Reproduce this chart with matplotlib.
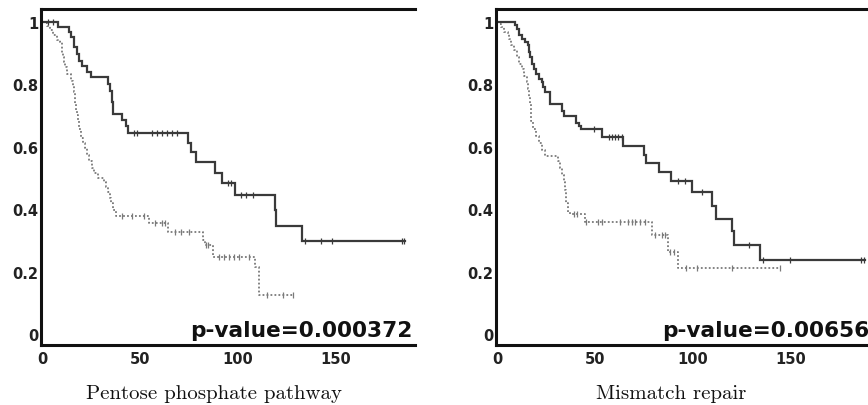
import matplotlib
matplotlib.use('Agg')
import matplotlib.pyplot as plt
import numpy as np

# ---------------- data ----------------
titles = ["Pentose phosphate pathway", "Mismatch repair"]
pvalues = ["p-value=0.000372", "p-value=0.00656"]
xticks = [0, 50, 100, 150]
yticks = [0, 0.2, 0.4, 0.6, 0.8, 1]
ytick_labels = ["0", "0.2", "0.4", "0.6", "0.8", "1"]

# Pentose phosphate pathway - solid group
pp_high_t = [0, 7.6, 13.5, 14.6, 16.0, 17.3, 18.3, 20.0, 22.7, 24.7, 33.2, 34.3, 35.2,
             35.7, 40.7, 42.4, 43.6, 74.4, 76.1, 78.6, 87.9, 91.6, 98.5, 118.7, 119.5, 132.8]
pp_high_s = [1.0, 0.983, 0.967, 0.951, 0.918, 0.897, 0.875, 0.859, 0.838, 0.822, 0.800, 0.778,
             0.741, 0.705, 0.684, 0.665, 0.642, 0.612, 0.583, 0.549, 0.515, 0.483, 0.445,
             0.397, 0.345, 0.297]
pp_high_end = 185.5
pp_high_cens = [2.5, 5.0, 46.6, 48.3, 55.9, 58.4, 61.0, 63.5, 66.0, 68.5, 95.0, 96.3,
                101.4, 103.9, 107.6, 134.2, 142.6, 148.1, 183.8, 185.0]

# Pentose phosphate pathway - dotted group
pp_low_t = [0, 1.0, 2.0, 3.7, 5.0, 7.1, 8.8, 9.6, 10.0, 10.5, 11.0, 11.3, 12.6, 14.3, 15.5,
            16.0, 16.3, 16.7, 17.2, 17.6, 18.0, 18.8, 19.7, 20.5, 21.7, 22.7, 23.9, 25.1,
            26.4, 28.1, 31.1, 32.3, 33.6, 34.2, 34.8, 35.7, 37.4, 54.2, 64.3, 82.0, 82.8,
            87.0, 108.6, 110.6]
pp_low_s = [1.0, 0.994, 0.985, 0.972, 0.956, 0.940, 0.934, 0.918, 0.90, 0.886, 0.87, 0.854,
            0.832, 0.811, 0.795, 0.775, 0.757, 0.735, 0.714, 0.70, 0.682, 0.655, 0.628,
            0.612, 0.596, 0.574, 0.553, 0.531, 0.515, 0.499, 0.488, 0.472, 0.456, 0.435,
            0.418, 0.397, 0.377, 0.354, 0.326, 0.300, 0.286, 0.248, 0.215, 0.125]
pp_low_end = 128.3
pp_low_cens = [40.8, 45.8, 51.7, 57.4, 60.8, 62.6, 67.5, 71.0, 75.0, 83.6, 84.5,
               90.4, 92.9, 95.5, 98.0, 100.5, 105.6, 114.6, 123.0, 128.3]

# Mismatch repair - solid group
mm_high_t = [0, 8.9, 10.1, 11.0, 12.4, 14.1, 15.3, 15.8, 16.5, 17.5, 18.7, 19.6, 20.9, 22.7,
             23.4, 24.4, 26.8, 33.0, 33.8, 40.2, 41.5, 42.8, 53.6, 64.3, 74.9, 75.9, 82.3,
             88.7, 99.5, 109.8, 111.5, 119.8, 121.0, 134.2]
mm_high_s = [1.0, 0.988, 0.977, 0.956, 0.945, 0.934, 0.924, 0.902, 0.886, 0.865, 0.848,
             0.832, 0.816, 0.805, 0.789, 0.773, 0.735, 0.714, 0.698, 0.676, 0.666, 0.655,
             0.630, 0.603, 0.574, 0.547, 0.518, 0.490, 0.454, 0.410, 0.368, 0.330, 0.286,
             0.238]
mm_high_end = 188.0
mm_high_cens = [49.5, 56.7, 58.3, 60.0, 61.7, 63.4, 92.3, 96.0, 104.3, 128.7, 135.9,
                149.6, 186.1, 187.3]

# Mismatch repair - dotted group
mm_low_t = [0, 0.5, 1.5, 3.3, 5.0, 5.8, 6.7, 8.4, 9.6, 11.0, 12.4, 13.6, 14.8, 15.6, 16.1,
            16.5, 16.8, 17.0, 17.9, 19.6, 21.3, 22.7, 24.4, 31.0, 32.0, 33.0, 34.0, 34.5,
            34.8, 35.1, 35.9, 37.0, 44.5, 78.9, 87.0, 92.3]
mm_low_s = [1.0, 0.992, 0.983, 0.967, 0.959, 0.945, 0.924, 0.908, 0.886, 0.865, 0.848,
            0.827, 0.805, 0.784, 0.757, 0.735, 0.714, 0.682, 0.655, 0.633, 0.612, 0.590,
            0.569, 0.553, 0.531, 0.510, 0.488, 0.461, 0.445, 0.418, 0.391, 0.383, 0.359,
            0.318, 0.262, 0.210]
mm_low_end = 144.2
mm_low_cens = [38.8, 40.5, 45.4, 51.4, 53.1, 62.5, 66.8, 68.6, 70.3, 72.8, 75.4, 80.6,
               84.0, 85.7, 88.3, 90.0, 96.1, 102.1, 119.8, 144.2]

# ---------------- figure ----------------
W, H = 868, 406
fig = plt.figure(figsize=(W / 100, H / 100), dpi=100)

solid_col = '#3a3a3a'
dot_col = '#7a7a7a'


def km(ax, t, s, end, cens, color, ls, lw):
    tt = list(t) + [end]
    ss = list(s) + [s[-1]]
    ax.step(tt, ss, where='post', color=color, ls=ls, lw=lw, solid_joinstyle='miter')
    idx = np.searchsorted(np.array(t), np.array(cens), side='right') - 1
    cy = np.array(s)[idx]
    ax.plot(cens, cy, ls='none', marker='|', ms=4, mew=0.9, color=color)


panels = [
    dict(left=41, right=415, high=(pp_high_t, pp_high_s, pp_high_end, pp_high_cens),
         low=(pp_low_t, pp_low_s, pp_low_end, pp_low_cens), xmax=190.5),
    dict(left=496, right=870, high=(mm_high_t, mm_high_s, mm_high_end, mm_high_cens),
         low=(mm_low_t, mm_low_s, mm_low_end, mm_low_cens), xmax=190.5),
]

top_px, bot_px = 10, 346
for i, p in enumerate(panels):
    ax = fig.add_axes([p['left'] / W, 1 - bot_px / H, (p['right'] - p['left']) / W,
                       (bot_px - top_px) / H])
    km(ax, *p['low'], dot_col, (0, (1, 1.2)), 1.3)
    km(ax, *p['high'], solid_col, '-', 1.6)
    ax.set_xlim(-0.9, p['xmax'])
    ax.set_ylim(-0.035, 1.04)
    ax.set_xticks(xticks)
    ax.set_xticklabels([str(v) for v in xticks])
    ax.set_yticks(yticks)
    ax.set_yticklabels(ytick_labels)
    ax.tick_params(length=0, labelsize=10.5, pad=4)
    ax.tick_params(axis='y', pad=2)
    for lab in ax.get_xticklabels() + ax.get_yticklabels():
        lab.set_fontweight('bold')
        lab.set_color('#222222')
    for sp in ax.spines.values():
        sp.set_linewidth(2.2)
        sp.set_color('#111111')
    if i == 0:
        ax.spines['right'].set_visible(False)

# p-values
fig.text(412 / W, 1 - 337 / H, pvalues[0], ha='right', va='baseline',
         fontsize=15.6, fontweight='bold', family='DejaVu Sans', color='#111111')
fig.text(662 / W, 1 - 337 / H, pvalues[1], ha='left', va='baseline',
         fontsize=15.6, fontweight='bold', family='DejaVu Sans', color='#111111')

# captions
fig.text(214.5 / W, 1 - 394 / H, titles[0], ha='center', va='center',
         fontsize=15, family='cmr10', color='#111111')
fig.text(671 / W, 1 - 394 / H, titles[1], ha='center', va='center',
         fontsize=15, family='cmr10', color='#111111')

fig.savefig('out.png', dpi=100)
